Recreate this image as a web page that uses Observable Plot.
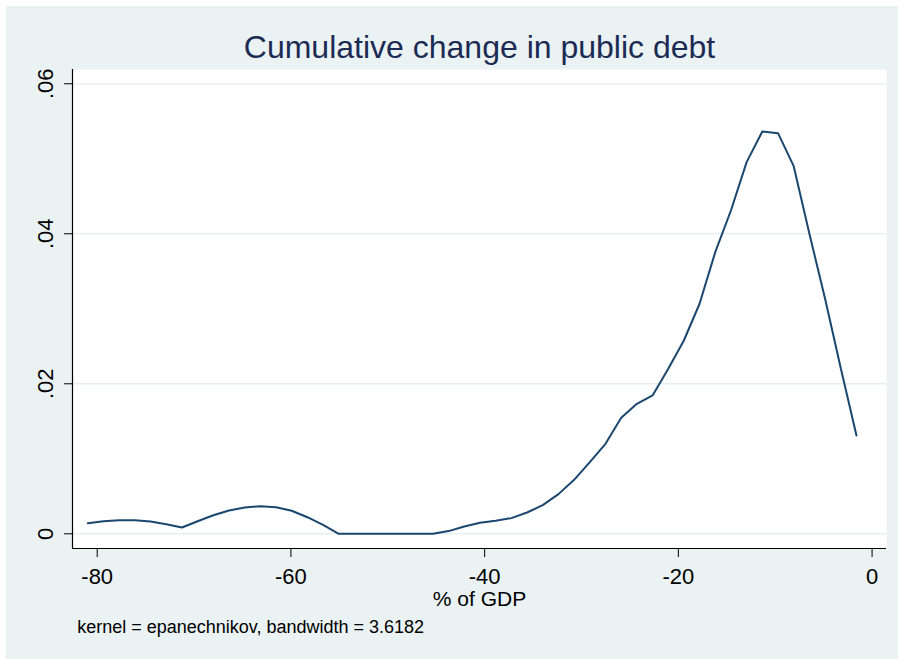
<!DOCTYPE html>
<html>
<head>
<meta charset="utf-8">
<script src="https://cdn.jsdelivr.net/npm/d3@7"></script>
<script src="https://cdn.jsdelivr.net/npm/@observablehq/plot@0.6"></script>
<style>
  html, body { margin: 0; padding: 0; background: #ffffff; }
  #chart { position: absolute; left: 6px; top: 6px; }
</style>
</head>
<body>
<div id="chart"></div>
<script>
// ---- Data ----
const gdpChange = [
  -80.97, -79.35, -77.73, -76.11, -74.49, -72.87, -71.25, -69.63, -68.01, -66.39,
  -64.77, -63.15, -61.53, -59.92, -58.30, -56.68, -55.06, -53.44, -51.82, -50.20,
  -48.58, -46.96, -45.34, -43.72, -42.10, -40.48, -38.86, -37.24, -35.62, -34.00,
  -32.38, -30.76, -29.14, -27.52, -25.90, -24.28, -22.66, -21.04, -19.43, -17.81,
  -16.19, -14.57, -12.95, -11.33, -9.71, -8.09, -6.47, -4.85, -3.23, -1.61
];
const density = [
  0.00141, 0.00168, 0.00181, 0.00181, 0.00164, 0.00128, 0.00084, 0.00168, 0.00248, 0.00311,
  0.00351, 0.00368, 0.00355, 0.00307, 0.00221, 0.00120, 0, 0, 0, 0,
  0, 0, 0, 0.00036, 0.00098, 0.00147, 0.00173, 0.00209, 0.00284, 0.00382,
  0.00529, 0.00720, 0.00955, 0.01200, 0.01547, 0.01733, 0.01844, 0.02200, 0.02577, 0.03067,
  0.03755, 0.04310, 0.04955, 0.05364, 0.05341, 0.04901, 0.04000, 0.03133, 0.02208, 0.01310
];
const xTicks = [-80, -60, -40, -20, 0];
const xTickLabels = ["-80", "-60", "-40", "-20", "0"];
const yTicks = [0, 0.02, 0.04, 0.06];
const yTickLabels = ["0", ".02", ".04", ".06"];
const xDomain = [-82.55, 1.49];
const yDomain = [-0.00196, 0.0619];
const titleText = ["Cumulative change in public debt"];
const xLabelText = ["% of GDP"];
const noteText = ["kernel = epanechnikov, bandwidth = 3.6182"];

const rows = gdpChange.map((x, i) => ({x, y: density[i]}));
const font = "'Liberation Sans', Arial, Helvetica, sans-serif";

const chart = Plot.plot({
  width: 892,
  height: 653,
  marginLeft: 66,
  marginRight: 12,
  marginTop: 63,
  marginBottom: 111,
  x: {domain: xDomain, axis: null},
  y: {domain: yDomain, axis: null},
  style: {background: "#EAF2F3", fontFamily: font, overflow: "visible"},
  marks: [
    Plot.frame({fill: "white", stroke: null}),
    Plot.ruleY(yTicks, {y: d => d, stroke: "#E6EFF2", strokeWidth: 1.6}),
    Plot.line(rows, {x: "x", y: "y", stroke: "#1a476f", strokeWidth: 2, strokeLinejoin: "miter"}),
    Plot.ruleX([xDomain[0]], {stroke: "#000", strokeWidth: 1.2}),
    Plot.ruleY([yDomain[0]], {stroke: "#000", strokeWidth: 1.2}),
    Plot.axisY(yTicks, {anchor: "left", tickSize: 8, tickFormat: () => "", label: null, stroke: "#000"}),
    Plot.axisX(xTicks, {anchor: "bottom", tickSize: 9, tickFormat: () => "", label: null, stroke: "#000"}),
    Plot.text(yTicks, {y: d => d, text: (d, i) => yTickLabels[i], frameAnchor: "left", lineAnchor: "middle", textAnchor: "middle", dx: -27, rotate: -90, fontSize: 22, fill: "#000"}),
    Plot.text(xTicks, {x: d => d, text: (d, i) => xTickLabels[i], frameAnchor: "bottom", lineAnchor: "middle", dy: 28, fontSize: 22, fill: "#000"}),
    Plot.text(xLabelText, {text: d => d, frameAnchor: "bottom", lineAnchor: "middle", dy: 51, fontSize: 21, fill: "#000"}),
    Plot.text(noteText, {text: d => d, frameAnchor: "bottom-left", lineAnchor: "middle", textAnchor: "start", dx: 4.7, dy: 79, fontSize: 18, fill: "#000"}),
    Plot.text(titleText, {text: d => d, frameAnchor: "top", lineAnchor: "middle", dy: -21.5, fontSize: 32, fill: "#1c2b53"})
  ]
});
document.getElementById("chart").appendChild(chart);
</script>
</body>
</html>
